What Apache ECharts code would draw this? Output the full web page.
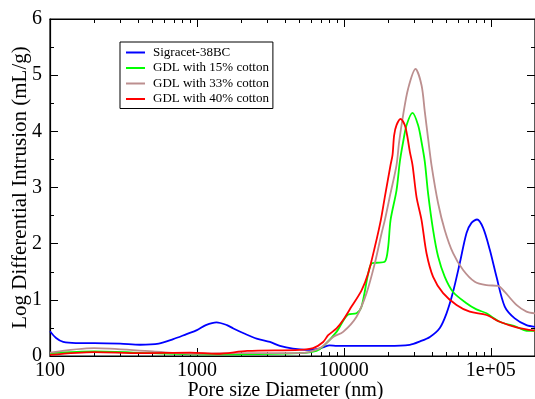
<!DOCTYPE html>
<html>
<head>
<meta charset="utf-8">
<script src="https://cdn.jsdelivr.net/npm/echarts@6/dist/echarts.min.js"></script>
<style>
html,body{margin:0;padding:0;background:#fff;}
#chart{width:535px;height:399px;}
</style>
</head>
<body>
<div id="chart"></div>
<script>
// ---- data (pore diameter in nm, log differential intrusion in mL/g) ----
const seriesNames = ['Sigracet-38BC', 'GDL with 15% cotton', 'GDL with 33% cotton', 'GDL with 40% cotton'];
const seriesColors = ['#0000ff', '#00ff00', '#bc8f8f', '#ff0000'];

const blueX = [100, 110, 123, 150, 200, 300, 410, 550, 690, 850, 1000, 1150, 1360, 1600, 1770, 2100, 2550, 3140, 3670, 4500, 5560, 6500, 7300, 8000, 9000, 12000, 20000, 28100, 33000, 38500, 45000, 50000, 55100, 61500, 68400, 73900, 80700, 88700, 98500, 109400, 124500, 145600, 175000, 200000];
const blueY = [0.44, 0.32, 0.25, 0.23, 0.23, 0.22, 0.20, 0.22, 0.30, 0.39, 0.46, 0.55, 0.60, 0.55, 0.49, 0.40, 0.31, 0.25, 0.18, 0.13, 0.11, 0.12, 0.16, 0.19, 0.18, 0.18, 0.18, 0.20, 0.26, 0.34, 0.50, 0.76, 1.12, 1.65, 2.19, 2.37, 2.43, 2.28, 1.89, 1.41, 0.88, 0.67, 0.55, 0.52];

const greenX = [100, 200, 500, 1000, 2000, 5020, 6520, 7230, 8920, 10700, 12200, 13200, 15430, 16690, 19010, 20020, 20790, 22830, 24050, 25320, 26710, 29340, 32030, 33790, 35560, 37460, 40510, 43810, 48640, 55400, 68320, 79920, 93480, 115100, 149500, 175000, 200000];
const greenY = [0.05, 0.08, 0.05, 0.03, 0.03, 0.05, 0.09, 0.17, 0.43, 0.74, 0.76, 0.88, 1.65, 1.66, 1.68, 1.94, 2.42, 2.95, 3.46, 3.81, 4.11, 4.33, 4.11, 3.81, 3.46, 2.89, 2.24, 1.77, 1.41, 1.14, 0.94, 0.83, 0.76, 0.61, 0.52, 0.45, 0.45];

const brownX = [100, 200, 500, 1000, 2000, 5020, 6870, 8460, 9890, 12200, 14270, 16250, 18050, 19010, 20790, 22830, 23780, 25320, 27380, 30740, 33790, 35560, 37460, 39500, 43810, 48640, 55400, 64800, 77840, 93480, 112100, 124500, 149500, 175000, 200000];
const brownY = [0.06, 0.14, 0.08, 0.04, 0.05, 0.05, 0.14, 0.34, 0.43, 0.70, 1.12, 1.65, 2.18, 2.42, 2.90, 3.40, 3.81, 4.29, 4.76, 5.11, 4.82, 4.35, 3.87, 3.40, 2.72, 2.24, 1.83, 1.53, 1.32, 1.26, 1.25, 1.14, 0.91, 0.79, 0.76];

const redX = [100, 200, 410, 900, 1370, 2200, 5000, 6180, 7230, 7820, 8920, 9890, 11280, 13200, 14630, 16250, 17850, 19000, 20790, 21450, 21990, 22830, 24310, 26000, 26960, 28120, 29340, 31240, 33790, 36530, 40510, 47370, 58460, 71960, 93480, 115100, 149500, 200000];
const redY = [0.02, 0.07, 0.05, 0.06, 0.04, 0.09, 0.11, 0.14, 0.25, 0.37, 0.49, 0.64, 0.88, 1.17, 1.47, 1.94, 2.42, 2.83, 3.40, 3.58, 3.93, 4.11, 4.22, 4.11, 3.93, 3.64, 3.40, 2.83, 2.42, 1.83, 1.41, 1.12, 0.91, 0.79, 0.73, 0.61, 0.51, 0.45];

const xMin = 100, xMax = 200000;
const yMin = 0, yMax = 6;
const xTickValues = [100, 1000, 10000, 100000];
const xTickLabels = ['100', '1000', '10000', '1e+05'];
const xTitle = 'Pore size Diameter (nm)';
const yTitle = 'Log Differential Intrusion (mL/g)';

// minor ticks on log axis: 2..9 x each decade
const xMinorTicks = [];
for (let d = 100; d <= 100000; d *= 10) {
  for (let k = 2; k <= 9; k++) { if (d * k <= xMax) xMinorTicks.push(d * k); }
}

function zip(xs, ys) { return xs.map((x, i) => [x, ys[i]]); }
const allData = [zip(blueX, blueY), zip(greenX, greenY), zip(brownX, brownY), zip(redX, redY)];

const FONT = 'Liberation Serif';
const FRAME = '#000000';
function gridRect(showBorder) {
  return { left: 50, right: 0, top: 19, bottom: 43, containLabel: false, outerBoundsMode: 'none',
    show: showBorder, borderColor: FRAME, borderWidth: 1.2, backgroundColor: 'transparent' };
}
function axLine(show) { return { show: show, onZero: false, lineStyle: { color: FRAME, width: 1.2 } }; }

function xAxisDef(grid, pos, ticks, len, showLabel, showLine) {
  const a = {
    type: 'log', logBase: 10, gridIndex: grid, position: pos, min: xMin, max: xMax,
    axisLine: axLine(showLine),
    axisTick: { show: true, inside: true, length: len, customValues: ticks, lineStyle: { color: '#000', width: 1 } },
    axisLabel: { show: false },
    splitLine: { show: false }, minorTick: { show: false }, minorSplitLine: { show: false }
  };
  if (showLabel) {
    a.axisLabel = {
      show: true, customValues: xTickValues, margin: 5,
      fontFamily: FONT, fontSize: 20, color: '#000',
      formatter: function (v) { const i = xTickValues.indexOf(Math.round(v)); return i >= 0 ? xTickLabels[i] : ''; }
    };
    a.name = xTitle; a.nameLocation = 'middle'; a.nameGap = 25; a.nameMoveOverlap = false;
    a.nameTextStyle = { fontFamily: FONT, fontSize: 20, color: '#000', padding: [0, 14, 0, 0] };
  }
  return a;
}
function yAxisDef(grid, pos, showLabel, show) {
  const a = {
    type: 'value', gridIndex: grid, position: pos, min: yMin, max: yMax, interval: 1, show: show,
    axisLine: axLine(true),
    axisTick: { show: true, inside: true, length: 8, lineStyle: { color: '#000', width: 1 } },
    minorTick: { show: true, splitNumber: 2, length: 4, lineStyle: { color: '#000', width: 1 } },
    axisLabel: { show: showLabel, margin: 8, fontFamily: FONT, fontSize: 20, color: '#000' },
    splitLine: { show: false }
  };
  if (showLabel) {
    a.name = yTitle; a.nameLocation = 'middle'; a.nameGap = 19; a.nameMoveOverlap = false;
    a.nameTextStyle = { fontFamily: FONT, fontSize: 21, color: '#000' };
  }
  return a;
}

const chart = echarts.init(document.getElementById('chart'), null, { renderer: 'canvas' });
chart.setOption({
  animation: false,
  backgroundColor: '#fff',
  grid: [gridRect(true), gridRect(false)],
  xAxis: [
    xAxisDef(0, 'bottom', xTickValues, 8, true, true),
    xAxisDef(0, 'top', xTickValues, 8, false, true),
    xAxisDef(1, 'bottom', xMinorTicks, 4, false, false),
    xAxisDef(1, 'top', xMinorTicks, 4, false, false)
  ],
  yAxis: [
    yAxisDef(0, 'left', true, true),
    yAxisDef(0, 'right', false, true),
    yAxisDef(1, 'left', false, false)
  ],
  legend: {
    orient: 'vertical', left: 120, top: 42,
    data: seriesNames,
    icon: 'rect', itemWidth: 19, itemHeight: 2, itemGap: 2.5,
    padding: [4, 4, 3, 6],
    borderColor: '#000', borderWidth: 1, backgroundColor: '#fff',
    textStyle: { fontFamily: FONT, fontSize: 13, color: '#000', lineHeight: 13, padding: [0, 0, 0, 3] }
  },
  series: seriesNames.map((n, i) => ({
    name: n, type: 'line', xAxisIndex: 0, yAxisIndex: 0,
    data: allData[i], symbol: 'none', showSymbol: false,
    smooth: 0.3, color: seriesColors[i],
    lineStyle: { color: seriesColors[i], width: 1.8 }
  }))
});
</script>
</body>
</html>
